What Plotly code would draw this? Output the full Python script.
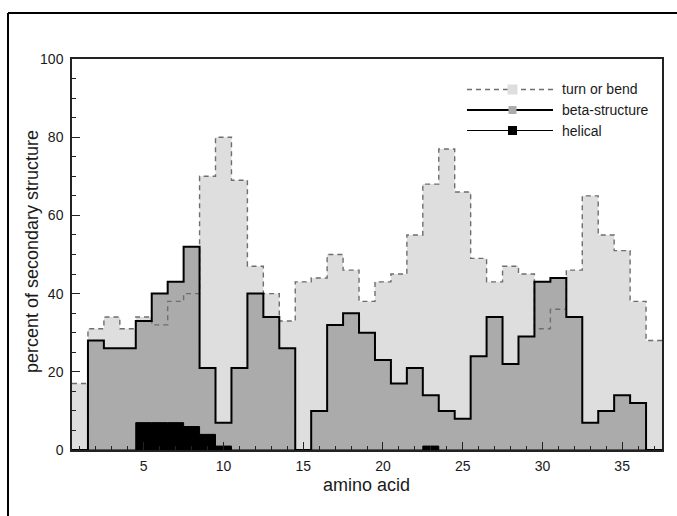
import plotly.graph_objects as go

# Secondary-structure content per residue position (percent)
residues = list(range(1, 38))
turn_or_bend = [17, 31, 34, 31, 34, 32, 38, 40, 70, 80, 69, 47, 40, 33, 43, 44, 50, 46, 38,
                43, 45, 55, 68, 77, 66, 49, 43, 47, 45, 31, 36, 46, 65, 55, 51, 38, 28]
beta_structure = [0, 28, 26, 26, 33, 40, 43, 52, 21, 7, 21, 40, 34, 26, 0, 10, 32, 35, 30,
                  23, 17, 21, 14, 10, 8, 24, 34, 22, 29, 43, 44, 34, 7, 10, 14, 12, 0]
helical = [0, 0, 0, 0, 7, 7, 7, 6, 4, 1, 0, 0, 0, 0, 0, 0, 0, 0, 0,
           0, 0, 0, 1, 0, 0, 0, 0, 0, 0, 0, 0, 0, 0, 0, 0, 0, 0]

x_ticks = [5, 10, 15, 20, 25, 30, 35]
y_ticks = [0, 20, 40, 60, 80, 100]
series_names = ["turn or bend", "beta-structure", "helical"]

FONT = "Liberation Sans, Arial, Helvetica, sans-serif"
INK = "#1a1a1a"
TURN_FILL = "#dedede"
BETA_FILL = "#ababab"
HELIX_FILL = "#000000"

# figure geometry (pixels)
FIG_W, FIG_H = 677, 516
M_L, M_R, M_T, M_B = 72, 15, 59, 66
PW = FIG_W - M_L - M_R
PH = FIG_H - M_T - M_B


def px(x):
    return (x - M_L) / PW


def py(y):
    return (FIG_H - M_B - y) / PH


def steps(values):
    # histogram-style steps: one bin of width 1 centred on each residue
    edges = [r - 0.5 for r in residues] + [residues[-1] + 0.5]
    return edges, list(values) + [values[-1]]


fig = go.Figure()

styles = [
    (turn_or_bend, TURN_FILL, dict(color="#6e6e6e", width=1.4, dash="5px,4px")),
    (beta_structure, BETA_FILL, dict(color="#000000", width=2)),
    (helical, HELIX_FILL, dict(color="#000000", width=1)),
]

# filled areas first, stacked back to front
for vals, fill, _ in styles:
    xs, ys = steps(vals)
    fig.add_trace(go.Scatter(x=xs, y=ys, mode="lines", line=dict(width=0, shape="hv"),
                             fill="tozeroy", fillcolor=fill, showlegend=False,
                             hoverinfo="skip"))

# outlines drawn over all fills
for (vals, _, line), name in zip(styles, series_names):
    xs, ys = steps(vals)
    fig.add_trace(go.Scatter(x=xs, y=ys, mode="lines", name=name,
                             line=dict(shape="hv", **line), showlegend=False))

shapes = []
annotations = []

# legend block in the upper right
legend_rows = [89.5, 110, 130.5]
square_size = [10, 8, 9]
for (vals, fill, line), name, ry, sq in zip(styles, series_names, legend_rows, square_size):
    shapes.append(dict(type="line", xref="paper", yref="paper",
                       x0=px(467), x1=px(553), y0=py(ry), y1=py(ry),
                       line=dict(color=line["color"], width=line["width"],
                                 dash=line.get("dash", "solid"))))
    shapes.append(dict(type="rect", xref="paper", yref="paper",
                       x0=px(512.5 - sq / 2), x1=px(512.5 + sq / 2),
                       y0=py(ry + sq / 2), y1=py(ry - sq / 2),
                       fillcolor=fill, line=dict(width=0)))
    annotations.append(dict(text=name, xref="paper", yref="paper", x=px(560), y=py(ry),
                            xanchor="left", yanchor="middle", showarrow=False,
                            font=dict(family=FONT, size=14, color=INK)))

# outer frame around the figure
shapes.append(dict(type="line", xref="paper", yref="paper", x0=px(8), x1=px(720),
                   y0=py(13), y1=py(13), line=dict(color="#000", width=2)))
shapes.append(dict(type="line", xref="paper", yref="paper", x0=px(8), x1=px(8),
                   y0=py(13), y1=py(560), line=dict(color="#000", width=2)))

# axis titles
annotations.append(dict(text="amino acid", xref="paper", yref="paper", x=px(366), y=py(485),
                        xanchor="center", yanchor="middle", showarrow=False,
                        font=dict(family=FONT, size=18, color=INK)))
annotations.append(dict(text="percent of secondary structure", xref="paper", yref="paper",
                        x=px(32), y=py(252), xanchor="center", yanchor="middle",
                        textangle=-90, showarrow=False,
                        font=dict(family=FONT, size=18, color=INK)))

axis_common = dict(showline=True, linecolor="#222", linewidth=1.5, mirror=True,
                   ticks="inside", tickcolor="#222", tickwidth=1.3, ticklen=8,
                   showgrid=False, zeroline=False, fixedrange=True,
                   tickfont=dict(family=FONT, size=14, color=INK))

fig.update_layout(
    width=FIG_W, height=FIG_H,
    margin=dict(l=M_L, r=M_R, t=M_T, b=M_B, autoexpand=False),
    paper_bgcolor="white", plot_bgcolor="white",
    showlegend=False,
    shapes=shapes, annotations=annotations,
    xaxis=dict(range=[0.5, 37.5], tickvals=x_ticks, ticktext=[str(v) for v in x_ticks],
               ticklabelstandoff=2,
               minor=dict(ticks="inside", dtick=1, tick0=0, ticklen=4, tickcolor="#222",
                          tickwidth=1, showgrid=False),
               **axis_common),
    yaxis=dict(range=[0, 100], tickvals=y_ticks, ticktext=[str(v) for v in y_ticks],
               ticklabelstandoff=4,
               minor=dict(ticks="inside", dtick=5, tick0=0, ticklen=4, tickcolor="#222",
                          tickwidth=1, showgrid=False),
               **axis_common),
)

fig.write_html("out.html")
